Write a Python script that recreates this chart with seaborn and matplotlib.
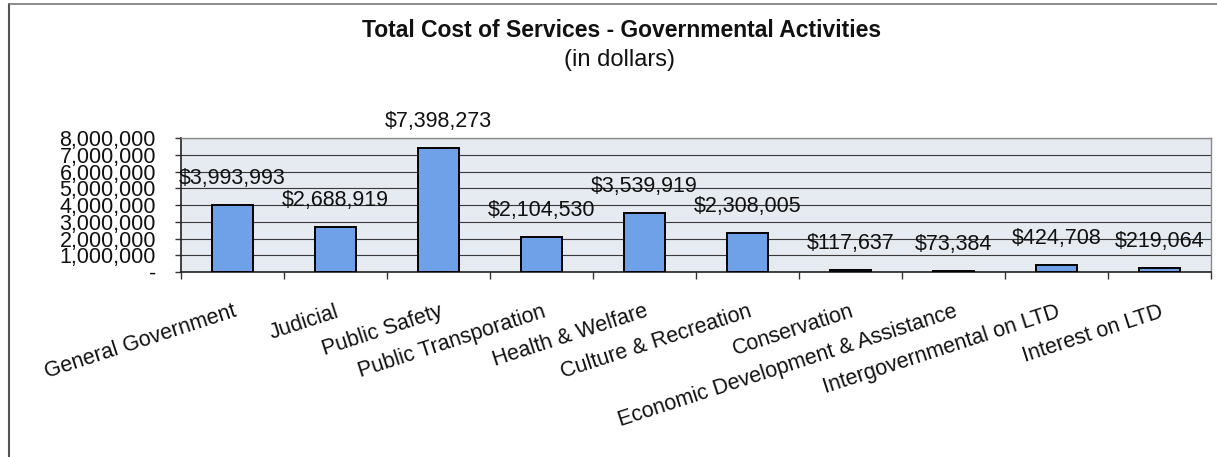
import matplotlib
matplotlib.use("Agg")
import matplotlib.pyplot as plt
from matplotlib.lines import Line2D
from matplotlib.ticker import FixedLocator, FuncFormatter
import seaborn as sns
import pandas as pd

categories = [
    "General Government",
    "Judicial",
    "Public Safety",
    "Public Transporation",
    "Health & Welfare",
    "Culture & Recreation",
    "Conservation",
    "Economic Development & Assistance",
    "Intergovernmental on LTD",
    "Interest on LTD",
]
costs = [3993993, 2688919, 7398273, 2104530, 3539919, 2308005, 117637, 73384, 424708, 219064]
y_ticks = [0, 1000000, 2000000, 3000000, 4000000, 5000000, 6000000, 7000000, 8000000]

sns.set_theme(style="white")
plt.rcParams["font.family"] = ["Liberation Sans", "DejaVu Sans"]

df = pd.DataFrame({"category": categories, "cost": costs})

fig = plt.figure(figsize=(12.17, 4.57), dpi=100)
ax = fig.add_axes([0.1487, 0.4048, 0.8463, 0.2932])
ax.set_facecolor("#e6eaf1")

sns.barplot(data=df, x="category", y="cost", color="#6fa1e8", saturation=1,
            edgecolor="black", linewidth=1.4, width=0.4, ax=ax, zorder=3)

ax.set_ylim(0, 8000000)
ax.set_xlim(-0.5, len(categories) - 0.5)
ax.yaxis.set_major_locator(FixedLocator(y_ticks))
ax.yaxis.set_major_formatter(FuncFormatter(lambda v, p: "-" if v == 0 else f"{int(v):,}"))
ax.grid(axis="y", color="#3a3a3a", linewidth=0.8, zorder=1)
ax.set_axisbelow(True)

# value labels above each bar
for i, v in enumerate(costs):
    ax.annotate(f"${v:,}", xy=(i, v), xytext=(0, 19), textcoords="offset points",
                ha="center", va="center", fontsize=15.5, color="#111111", zorder=5)

# category ticks: labels at centres, tick marks at boundaries
ax.set_xticks(range(len(categories)))
ax.set_xticklabels(categories, rotation=18, ha="right", va="top",
                   rotation_mode="anchor", fontsize=15.5)
ax.tick_params(axis="x", which="major", length=0, pad=21)
ax.set_xticks([i - 0.5 for i in range(len(categories) + 1)], minor=True)
ax.tick_params(axis="x", which="minor", length=5, width=1, color="#333333",
               bottom=True, direction="out")
ax.tick_params(axis="y", which="major", length=4, width=1, color="#333333",
               left=True, direction="out", labelsize=15.5, pad=14)
for lbl in ax.get_yticklabels() + ax.get_xticklabels():
    lbl.set_color("#111111")

ax.set_xlabel("")
ax.set_ylabel("")

for side in ("left", "bottom"):
    ax.spines[side].set_color("#222222")
    ax.spines[side].set_linewidth(1.2)
for side in ("top", "right"):
    ax.spines[side].set_color("#8a8a8a")
    ax.spines[side].set_linewidth(1.0)

fig.text(0.511, 0.934, "Total Cost of Services - Governmental Activities",
         ha="center", va="center", fontsize=16.5, fontweight="bold", color="#111111")
fig.text(0.509, 0.869, "(in dollars)", ha="center", va="center",
         fontsize=17, color="#111111")

# chart frame
fig.add_artist(Line2D([0.0074, 0.0074], [0.0, 0.991], transform=fig.transFigure,
                      color="#555555", linewidth=1.5))
fig.add_artist(Line2D([0.0074, 1.0], [0.991, 0.991], transform=fig.transFigure,
                      color="#777777", linewidth=1.2))

fig.savefig("out.png", dpi=100, facecolor="white")
